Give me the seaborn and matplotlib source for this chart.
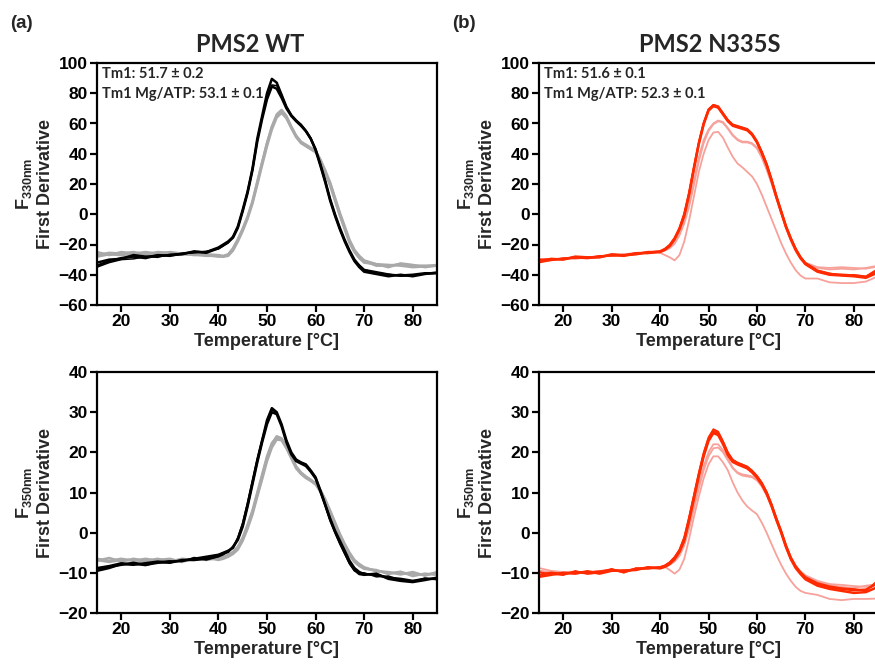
import matplotlib
matplotlib.use("Agg")
import matplotlib.pyplot as plt
import seaborn as sns

# temperature grid (°C), shared by every trace
temp = [15, 17.5, 20, 22.5, 25, 27.5, 30, 32.5, 35, 37.5, 40,
        41, 42, 43, 44, 45, 46, 47, 48, 49, 50,
        51, 52, 53, 54, 55, 56, 57, 58, 59, 60,
        61, 62, 63, 64, 65, 66, 67, 68, 69, 70,
        72.5, 75, 77.5, 80, 82.5, 85]

# ---- PMS2 WT, F330 first derivative ----
wt330_apo = [
    [-34, -31, -29, -28, -29, -27, -27.5, -26, -25, -25, -22,
     -20, -18, -15, -8, 3, 15, 30, 50, 65, 80,
     89.5, 87, 79, 71, 65.5, 62, 59, 55, 50, 43,
     33, 22, 10, 0, -9, -17, -24, -30, -34, -37,
     -39, -40, -40.5, -40, -39, -39],
    [-32, -30, -29.5, -27, -28, -27.5, -27, -26.5, -24.5, -25.5, -22.5,
     -20.5, -18.5, -15.5, -9, 2, 14, 29, 48, 63, 76,
     84.5, 83, 77, 70, 65, 61.5, 58.5, 55, 50, 42.5,
     32, 21, 9, -1, -10, -18, -25, -31, -35, -38,
     -39.5, -41, -40, -41, -39.5, -38.5],
    [-35, -32, -30, -29.5, -28, -28.5, -26.5, -26, -25.5, -24.5, -23,
     -21, -19, -14.5, -8.5, 2.5, 14.5, 29.5, 49, 64, 77,
     85.5, 85, 79, 71, 65.5, 62, 59.5, 55.5, 50.5, 43,
     33, 22, 10, -0.5, -9.5, -17.5, -24.5, -30.5, -33.5, -36.5,
     -38, -39.5, -41, -40.5, -39.5, -39],
]
wt330_mg = [
    [-25, -27, -25, -26, -25, -26, -26, -26, -27, -27, -28,
     -28, -27, -23, -17, -10, -2, 8, 21, 34, 47,
     58, 66, 69, 65, 58, 52, 48, 46, 44, 42,
     36, 28, 20, 10, 0, -9, -18, -24, -28, -31,
     -34, -34, -33, -34, -34, -34],
    [-27, -25.5, -26, -25, -26.5, -25, -25.5, -26.5, -26.5, -27.5, -27.5,
     -28, -27.5, -24, -18, -11, -3, 7, 19.5, 32.5, 45,
     56, 64, 67, 63.5, 57, 51, 47, 45, 43, 41,
     35, 27, 19, 9, -1, -10, -19, -25, -29, -32,
     -33, -35, -32.5, -33.5, -35, -34],
    [-28, -26.5, -27, -26.5, -25.5, -26.5, -25, -26, -26, -26.5, -27,
     -27.5, -26.5, -22.5, -16.5, -9.5, -1.5, 8.5, 21.5, 34.5, 47,
     57.5, 65, 68, 64, 57.5, 51.5, 47.5, 45.5, 43.5, 41.5,
     36, 29, 21, 11, 1, -8, -17, -23.5, -27.5, -30.5,
     -33, -33.5, -34, -35, -34.5, -33.5],
]

# ---- PMS2 WT, F350 first derivative ----
wt350_apo = [
    [-9, -8.5, -8, -7.5, -8, -7.5, -7.3, -7, -6.5, -6, -5.5,
     -5, -4.5, -3.8, -1.5, 2, 7, 12.5, 18, 23, 28,
     31, 30, 27, 23, 20, 18.2, 17.5, 17, 15.5, 13.8,
     10.5, 7, 3.5, 0.5, -2, -4.5, -7, -8.8, -9.8, -10.3,
     -10.5, -11.2, -11.5, -12, -11.5, -11.5],
    [-9.5, -8.8, -7.8, -8, -7.6, -7.2, -7.5, -6.8, -6.8, -6.5, -5.8,
     -5.2, -4.8, -3.5, -1.8, 1.5, 6.5, 12, 17.5, 22.5, 27,
     30, 29.5, 26.5, 22.5, 19.5, 17.8, 17.2, 16.6, 15.2, 13.5,
     10.2, 6.8, 3.2, 0.2, -2.5, -5, -7.5, -9.3, -10.3, -10.5,
     -10.2, -11.5, -12, -12.3, -11.8, -11.2],
    [-8.7, -8.2, -7.5, -7.8, -8.2, -7.3, -7, -7.2, -6.2, -6.8, -6,
     -5.5, -4.6, -3.6, -1.2, 2.5, 7.5, 13, 18.5, 23.3, 27.7,
     30.6, 29.8, 26.8, 22.8, 19.8, 18, 17.3, 16.8, 15.3, 13.6,
     10.3, 6.6, 3, 0, -2.8, -5.3, -7.8, -9.5, -10, -10,
     -11, -10.8, -11.8, -12.2, -11.3, -11.7],
]
wt350_mg = [
    [-6.5, -7, -6.5, -7, -6.5, -7, -6.8, -7, -6.5, -6.5, -6.5,
     -6.3, -5.8, -5, -3.8, -1.5, 1.5, 5, 9.5, 14, 18.5,
     22, 24, 23.5, 21.5, 19, 16.5, 15, 14, 13.2, 12.3,
     10.5, 8, 5.2, 2.3, -0.5, -3, -5.2, -7, -8, -8.8,
     -9.5, -10, -10, -10.2, -10.5, -10],
    [-7, -6.3, -7.2, -6.5, -7, -6.5, -7.2, -6.5, -6.8, -6.2, -6.8,
     -6.5, -6, -5.3, -4.2, -2, 1, 4.5, 9, 13.3, 17.8,
     21.2, 23.2, 23, 21, 18.5, 16, 14.6, 13.6, 12.9, 12,
     10.2, 7.6, 4.8, 2, -1, -3.5, -5.6, -7.3, -8.3, -9,
     -9.3, -10.3, -9.7, -10.8, -10.2, -10.5],
    [-6.8, -7.3, -6.8, -6.8, -7.2, -6.8, -6.5, -7.3, -6.3, -6.8, -6.3,
     -6, -5.5, -4.8, -3.5, -1.2, 2, 5.5, 10, 14.5, 19,
     22.3, 23.8, 23.3, 21.3, 18.8, 16.3, 14.8, 13.8, 13, 12.1,
     10.6, 8.3, 5.5, 2.6, -0.3, -2.8, -5, -6.8, -7.8, -8.6,
     -9.6, -9.8, -10.4, -9.8, -10.7, -9.8],
]

# ---- PMS2 N335S, F330 first derivative ----
mut330_apo = [
    [-30, -30, -29.5, -28.5, -29, -28, -27, -27.5, -26, -25.5, -24.5,
     -23, -20.5, -16, -9.5, 0, 14, 31, 47, 60, 69,
     72, 71, 66.5, 62, 59, 58, 57, 56, 53, 48,
     41, 33, 23, 12, 2, -8, -16, -23, -28.5, -32.5,
     -37.5, -39.5, -40, -40.5, -41.5, -37],
    [-31, -29.5, -30, -28, -28.5, -28.5, -26.5, -27, -26.5, -25, -25,
     -23.5, -21, -16.5, -10, -1, 13, 30, 46.5, 59.5, 68.5,
     71.5, 70.5, 66, 61.5, 58.5, 57.5, 56.5, 55.5, 52.5, 47.5,
     40.5, 32.5, 22.5, 11.5, 1.5, -8.5, -16.5, -23.5, -29, -33,
     -38, -40, -40.5, -41, -42, -38.5],
    [-32, -30.5, -29, -29, -28.5, -27.5, -27.5, -27, -25.5, -26, -24.8,
     -22.8, -20, -15.5, -9, 0.5, 14.5, 31.5, 47.5, 60.5, 69.5,
     72.5, 71.5, 67, 62.5, 59.5, 58.5, 57.5, 56.5, 53.5, 48.5,
     41.5, 33.5, 23.5, 12.5, 2.5, -7.5, -15.5, -22.5, -28, -32,
     -37, -39, -40.5, -40, -41, -36],
]
mut330_mg = [
    [-31, -30, -29, -29.5, -28.5, -28, -27.5, -26.5, -25.5, -25, -24.5,
     -23.5, -21.5, -18, -12.5, -4, 7.5, 22, 37.5, 49, 56,
     60, 62, 61, 57, 52.5, 49.5, 48, 48, 47, 44,
     38, 30, 21, 11, 1, -8.5, -17, -24, -29, -32,
     -35, -35.5, -35, -35.5, -36, -34.5],
    [-30.5, -29.5, -29.5, -28.5, -29, -28.5, -27, -27, -26, -25.5, -25,
     -24, -22.5, -19.5, -14, -6, 5, 19.5, 35, 47, 55,
     59.5, 61.5, 60.5, 56.5, 52, 49, 47.5, 47.5, 46.5, 43.5,
     37.5, 29.5, 20.5, 10.5, 0.5, -9, -17.5, -24.5, -29.5, -32.5,
     -35.5, -36.5, -36, -36.5, -35.5, -34],
    [-31.5, -30.5, -29.5, -29, -29, -28, -27.5, -27, -26, -25.5, -25.5,
     -27, -28.5, -30.5, -27, -18, -4, 12, 28, 40, 49,
     54, 54.5, 50.5, 44, 38, 33.5, 31, 28, 25, 20,
     13, 5, -3, -11, -19, -26, -32, -37, -40.5, -42.5,
     -42.5, -45, -45.5, -45.5, -44.5, -41],
]

# ---- PMS2 N335S, F350 first derivative ----
mut350_apo = [
    [-10.5, -10, -10.3, -9.8, -10, -9.7, -9.2, -9.8, -9, -8.8, -8.7,
     -8.3, -7.5, -6.3, -4.5, -1.5, 3.5, 9, 14.5, 19.5, 23.3,
     25.3, 24.8, 22.5, 19.8, 18, 17.3, 16.8, 16.3, 15.3, 14,
     12.3, 10, 7, 3.5, 0.3, -3.3, -6.3, -8.5, -10, -11.2,
     -12.8, -13.6, -14, -14.3, -14.2, -12.5],
    [-11, -10.5, -10, -10.2, -9.6, -10.2, -9.5, -9.4, -9.3, -8.6, -8.9,
     -8.5, -7.8, -6.6, -4.8, -2, 3, 8.5, 14, 19, 22.8,
     24.8, 24.3, 22, 19.3, 17.6, 17, 16.5, 16, 15, 13.7,
     12, 9.7, 6.7, 3.2, 0, -3.6, -6.6, -8.8, -10.3, -11.6,
     -13.2, -14, -14.5, -15, -14.8, -13.5],
    [-9.8, -10.3, -10.6, -9.5, -10.3, -10, -9, -10, -8.8, -9, -8.5,
     -8.1, -7.3, -6, -4.2, -1, 4, 9.5, 15, 20, 23.8,
     25.8, 25.2, 22.8, 20, 18.2, 17.5, 17, 16.5, 15.5, 14.2,
     12.5, 10.2, 7.2, 3.8, 0.6, -3, -6, -8.2, -9.8, -11,
     -12.5, -13.3, -13.8, -14, -14.5, -11.8],
]
mut350_mg = [
    [-9.5, -9.8, -10, -10.2, -9.8, -9.5, -9.5, -9.5, -9, -9, -8.8,
     -8.5, -7.8, -6.8, -5.2, -2.5, 2, 7, 12, 16.5, 20,
     22, 22, 20.5, 18.5, 16.2, 15, 14.5, 14.3, 14, 13.2,
     11.8, 9.6, 6.8, 3.4, 0.2, -3.3, -6.3, -8.3, -9.6, -10.6,
     -12, -12.8, -13, -13.3, -13.5, -13],
    [-8.8, -9.5, -9.8, -9.7, -10, -9.6, -9.3, -9.6, -9.2, -8.8, -8.6,
     -8.6, -8, -7.2, -5.8, -3.2, 1, 6, 11, 15.5, 19,
     21, 21.2, 20, 18, 16, 14.8, 14.2, 14, 13.8, 13,
     11.5, 9.3, 6.5, 3.2, 0, -3.5, -6.5, -8.5, -9.8, -10.8,
     -12.2, -13, -13.5, -13.8, -13.2, -12.8],
    [-9.5, -10, -10.2, -9.8, -10.3, -9.8, -9.2, -9.5, -9, -8.8, -8.6,
     -8.5, -9.3, -10.2, -9.2, -6.5, -1.5, 4, 9, 13.5, 17,
     19, 19, 17.5, 15.5, 12.5, 10, 8, 6.5, 5.5, 4.6,
     2.5, 0, -2.8, -5.5, -8, -10.2, -12, -13.5, -14.5, -15,
     -15.5, -16.5, -16.8, -16.5, -16.5, -16.4],
]

tm_text = {
    "wt": ["Tm1: 51.7 \u00b1 0.2", "Tm1 Mg/ATP: 53.1 \u00b1 0.1"],
    "mut": ["Tm1: 51.6 \u00b1 0.1", "Tm1 Mg/ATP: 52.3 \u00b1 0.1"],
}

sns.set_theme(style="ticks")
plt.rcParams["font.family"] = ["Liberation Sans", "DejaVu Sans"]
plt.rcParams["font.weight"] = "bold"
plt.rcParams["mathtext.fontset"] = "custom"
plt.rcParams["mathtext.rm"] = "Liberation Sans"
plt.rcParams["mathtext.bf"] = "Liberation Sans:bold"

fig = plt.figure(figsize=(8.75, 6.69), dpi=100)
W, H = 875, 669


def make_ax(x0, y0, x1, y1):
    return fig.add_axes([x0 / W, 1 - y1 / H, (x1 - x0) / W, (y1 - y0) / H])


ax_wt330 = make_ax(97, 63, 437, 305)
ax_mut330 = make_ax(539, 63, 878, 305)
ax_wt350 = make_ax(97, 372, 437, 613)
ax_mut350 = make_ax(539, 372, 878, 613)

black, grey = "#000000", "#a9a9a9"
red, pink = "#ff2a00", "#f7a19b"

panels = [
    (ax_wt330, wt330_mg, wt330_apo, grey, black, "330nm", (-60, 100, 20)),
    (ax_mut330, mut330_mg, mut330_apo, pink, red, "330nm", (-60, 100, 20)),
    (ax_wt350, wt350_mg, wt350_apo, grey, black, "350nm", (-20, 40, 10)),
    (ax_mut350, mut350_mg, mut350_apo, pink, red, "350nm", (-20, 40, 10)),
]

for ax, mg, apo, c_mg, c_apo, wl, (lo, hi, step) in panels:
    for k, y in enumerate(mg):
        sns.lineplot(x=temp, y=y, ax=ax, color=c_mg,
                     linewidth=1.8 if c_mg == grey else 1.3)
    for k, y in enumerate(apo):
        sns.lineplot(x=temp, y=y, ax=ax, color=c_apo,
                     linewidth=1.1 if k == 2 else 1.8)
    ax.set_xlim(15, 85)
    ax.set_ylim(lo, hi)
    ax.set_xticks(range(20, 90, 10))
    ax.set_yticks(range(lo, hi + 1, step))
    for s in ax.spines.values():
        s.set_visible(True)
        s.set_linewidth(1.6)
        s.set_color("black")
    ax.tick_params(direction="out", length=5, width=1.6, labelsize=12.5,
                   colors="black", pad=1.5)
    ax.set_xlabel("Temperature [\u00b0C]", fontsize=13, fontweight="bold",
                  labelpad=3)
    ax.set_ylabel("$\\mathbf{F}_{\\mathrm{" + wl + "}}$\nFirst Derivative",
                  fontsize=13, fontweight="bold", labelpad=3, linespacing=1.25)
    ax.grid(False)

for ax, key in [(ax_wt330, "wt"), (ax_mut330, "mut")]:
    ax.text(0.016, 0.955, tm_text[key][0], transform=ax.transAxes,
            family=["Lato", "DejaVu Sans"], fontsize=10.5, fontweight="bold",
            va="center", ha="left")
    ax.text(0.016, 0.87, tm_text[key][1], transform=ax.transAxes,
            family=["Lato", "DejaVu Sans"], fontsize=10.5, fontweight="bold",
            va="center", ha="left")

fig.text(250 / W, 1 - 45 / H, "PMS2 WT", ha="center", va="center",
         family=["Lato", "DejaVu Sans"], fontsize=17, fontweight="bold")
fig.text(710 / W, 1 - 45 / H, "PMS2 N335S", ha="center", va="center",
         family=["Lato", "DejaVu Sans"], fontsize=17, fontweight="bold")
fig.text(10 / W, 1 - 24 / H, "(a)", ha="left", va="center", fontsize=13.5,
         fontweight="bold")
fig.text(452 / W, 1 - 24 / H, "(b)", ha="left", va="center", fontsize=13.5,
         fontweight="bold")

fig.savefig("out.png", dpi=100, facecolor="white")
